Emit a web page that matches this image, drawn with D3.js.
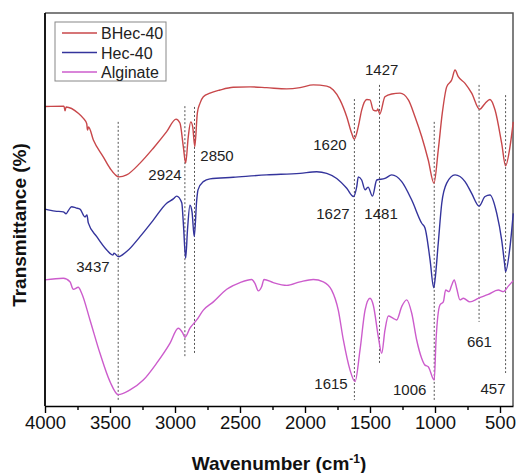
<!DOCTYPE html>
<html>
<head>
<meta charset="utf-8">
<script src="https://cdn.jsdelivr.net/npm/d3@7"></script>
<style>
  body { margin: 0; background: #fff; }
  svg { font-family: "Liberation Sans", Arial, sans-serif; display: block; }
</style>
</head>
<body>
<div class="canvas"></div>
<script>
// wavenumber (cm-1) and transmittance (arbitrary %, stacked)
const bhecWave = [4000, 3854, 3846, 3838, 3744, 3708, 3679, 3673, 3665, 3628, 3552, 3500, 3431, 3372, 3269, 3167, 3064, 2992, 2962, 2936, 2918, 2898, 2879, 2864, 2848, 2828, 2808, 2782, 2731, 2654, 2552, 2423, 2295, 2141, 2038, 1936, 1833, 1782, 1731, 1679, 1641, 1621, 1590, 1564, 1525, 1500, 1475, 1448, 1440, 1425, 1385, 1333, 1269, 1205, 1154, 1102, 1052, 1008, 975, 944, 910, 871, 846, 821, 769, 718, 657, 615, 577, 538, 487, 457, 423, 398];
const bhecVal  = [76.2, 76.3, 75.1, 76.1, 74.5, 73.3, 71.8, 70.2, 71.0, 67.7, 63.4, 60.5, 58.3, 58.8, 61.8, 65.6, 69.8, 73.0, 72.0, 66.0, 61.8, 68.5, 72.3, 71.1, 66.0, 74.6, 77.0, 78.7, 79.6, 80.4, 81.1, 81.2, 81.0, 80.7, 81.0, 81.7, 81.4, 80.4, 77.9, 73.6, 69.4, 67.9, 71.1, 75.3, 78.0, 77.9, 75.3, 75.1, 75.6, 74.3, 78.7, 79.4, 79.6, 77.9, 73.6, 68.5, 62.6, 56.7, 65.1, 74.5, 81.2, 83.0, 85.5, 83.8, 82.1, 79.6, 75.5, 77.0, 78.0, 75.3, 66.8, 61.1, 66.0, 72.3];

const hecWave = [4000, 3923, 3859, 3838, 3823, 3795, 3762, 3731, 3692, 3677, 3667, 3602, 3525, 3477, 3469, 3436, 3372, 3269, 3167, 3064, 3013, 2987, 2948, 2935, 2918, 2904, 2885, 2869, 2852, 2833, 2823, 2782, 2731, 2552, 2295, 2038, 1910, 1833, 1756, 1679, 1627, 1602, 1590, 1564, 1538, 1515, 1481, 1448, 1385, 1333, 1256, 1179, 1102, 1077, 1038, 1010, 1000, 975, 948, 910, 846, 769, 718, 661, 615, 577, 525, 487, 465, 457, 423, 398];
const hecVal  = [50.1, 49.6, 49.4, 48.9, 49.6, 50.7, 50.4, 50.1, 48.1, 48.6, 46.6, 43.1, 39.7, 38.4, 38.9, 38.0, 39.3, 43.1, 47.3, 51.6, 52.7, 53.4, 51.7, 46.1, 37.6, 44.8, 51.1, 49.4, 43.1, 52.4, 55.0, 57.1, 57.8, 58.2, 58.8, 59.2, 59.6, 59.2, 57.9, 55.4, 53.3, 55.8, 58.3, 57.5, 55.0, 55.7, 53.4, 57.5, 57.9, 58.8, 57.1, 52.4, 46.5, 45.3, 37.2, 30.1, 32.1, 41.4, 51.6, 56.7, 58.8, 57.1, 54.1, 50.9, 53.3, 53.7, 49.0, 42.2, 36.3, 34.2, 40.5, 49.0];

const algWave = [4000, 3859, 3808, 3782, 3744, 3718, 3654, 3577, 3500, 3437, 3346, 3244, 3141, 3038, 2975, 2941, 2924, 2885, 2833, 2782, 2705, 2602, 2500, 2410, 2385, 2359, 2333, 2315, 2244, 2141, 2038, 1936, 1859, 1795, 1744, 1705, 1654, 1615, 1577, 1538, 1500, 1475, 1436, 1410, 1385, 1359, 1321, 1295, 1256, 1218, 1179, 1141, 1102, 1077, 1052, 1006, 992, 962, 936, 918, 892, 871, 852, 833, 808, 782, 731, 667, 590, 513, 474, 436, 398];
const algVal  = [32.1, 32.5, 31.6, 29.7, 30.2, 28.7, 21.9, 13.4, 6.2, 2.9, 4.1, 6.6, 10.9, 16.0, 19.8, 18.6, 17.5, 19.8, 21.9, 24.4, 26.5, 29.7, 31.4, 32.2, 31.2, 29.3, 30.4, 32.2, 31.4, 30.7, 31.6, 32.2, 31.6, 29.5, 24.4, 16.8, 9.2, 6.2, 14.2, 24.4, 27.4, 25.7, 17.6, 13.4, 19.3, 22.9, 22.3, 21.9, 25.3, 27.0, 23.6, 16.8, 12.1, 10.4, 10.0, 6.6, 16.8, 25.7, 26.5, 29.5, 29.1, 30.8, 32.1, 29.9, 27.0, 27.4, 26.5, 27.4, 28.4, 29.5, 29.1, 30.5, 31.9];

const seriesNames = ["BHec-40", "Hec-40", "Alginate"];
const seriesColors = ["#c8474a", "#34349c", "#cc5ccc"];

// dotted peak guides: wavenumber, top and bottom value
const guideWave = [3437, 2924, 2850, 1620, 1427, 1006, 661, 457];
const guideTop  = [72.3, 76.3, 76.1, 78.1, 81.7, 72.3, 81.7, 79.1];
const guideBot  = [1.5, 12.5, 13.5, 1.5, 10.9, 1.5, 21.4, 8.4];

// peak labels: text, centre wavenumber, baseline value
const peakText = ["3437", "2924", "2850", "1620", "1427", "1627", "1481", "1615", "1006", "661", "457"];
const peakWave = [3631, 3077, 2677, 1808, 1410, 1785, 1415, 1800, 1195, 658, 554];
const peakVal  = [34.1, 57.5, 62.3, 65.1, 84.2, 47.6, 47.6, 4.3, 2.8, 15.0, 3.1];

const xMajor = [4000, 3500, 3000, 2500, 2000, 1500, 1000, 500];
const xMinor = [3750, 3250, 2750, 2250, 1750, 1250, 750];

const margin = {top: 13, right: 4, bottom: 67, left: 45};
const width = 517, height = 473;
const plotW = width - margin.left - margin.right;
const plotH = height - margin.top - margin.bottom;

const svg = d3.select('.canvas').append('svg')
    .attr('width', width)
    .attr('height', height);

const graph = svg.append('g')
    .attr('transform', `translate(${margin.left}, ${margin.top})`);

const x = d3.scaleLinear().domain([4000, 400]).range([0, plotW]);
const y = d3.scaleLinear().domain([0, 100]).range([plotH, 0]);

// frame top / right
graph.append('path')
    .attr('d', `M0,0H${plotW}V${plotH}`)
    .attr('fill', 'none')
    .attr('stroke', '#555')
    .attr('stroke-width', 1.5);

// guides
guideWave.forEach((w, i) => {
  graph.append('line')
    .attr('x1', x(w)).attr('x2', x(w))
    .attr('y1', y(guideTop[i])).attr('y2', y(guideBot[i]))
    .attr('stroke', '#555')
    .attr('stroke-width', 1)
    .attr('stroke-dasharray', '2,2');
});

const line = d3.line()
    .x(d => x(d[0]))
    .y(d => y(d[1]))
    .curve(d3.curveMonotoneX);

const allWave = [bhecWave, hecWave, algWave];
const allVal = [bhecVal, hecVal, algVal];
allWave.forEach((ws, i) => {
  graph.append('path')
    .datum(d3.zip(ws, allVal[i]))
    .attr('d', line)
    .attr('fill', 'none')
    .attr('stroke', seriesColors[i])
    .attr('stroke-width', 1.4);
});

// peak labels
peakText.forEach((t, i) => {
  graph.append('text')
    .attr('x', x(peakWave[i]))
    .attr('y', y(peakVal[i]))
    .attr('text-anchor', 'middle')
    .attr('font-size', 15)
    .attr('fill', '#222')
    .text(t);
});

// axes
const xAxisGroup = graph.append('g')
    .attr('transform', `translate(0, ${plotH})`);
xAxisGroup.call(d3.axisBottom(x).tickValues(xMajor).tickFormat(d3.format('d')).tickSize(7).tickSizeOuter(0).tickPadding(3));
xAxisGroup.selectAll('text').attr('font-size', 18.5).attr('fill', '#111').attr('font-family', '"Liberation Sans", Arial, sans-serif');
xAxisGroup.select('.domain').attr('stroke', '#000').attr('stroke-width', 1.6);
xAxisGroup.selectAll('.tick line').attr('stroke-width', 1.4);

const minorGroup = graph.append('g')
    .attr('transform', `translate(0, ${plotH})`);
minorGroup.call(d3.axisBottom(x).tickValues(xMinor).tickSize(4).tickFormat(''));
minorGroup.select('.domain').remove();
minorGroup.selectAll('.tick line').attr('stroke-width', 1.4);

graph.append('line')
    .attr('x1', 0).attr('x2', 0)
    .attr('y1', 0).attr('y2', plotH)
    .attr('stroke', '#000')
    .attr('stroke-width', 1.8);

// titles
svg.append('text')
    .attr('x', margin.left + plotW / 2)
    .attr('y', 470)
    .attr('text-anchor', 'middle')
    .attr('font-size', 19)
    .attr('font-weight', 'bold')
    .attr('fill', '#111')
    .html('Wavenumber (cm<tspan dy="-7" font-size="12">-1</tspan><tspan dy="7">)</tspan>');

svg.append('text')
    .attr('transform', `translate(26, 225) rotate(-90)`)
    .attr('text-anchor', 'middle')
    .attr('font-size', 19)
    .attr('font-weight', 'bold')
    .attr('fill', '#111')
    .text('Transmittance (%)');

// legend
const legend = svg.append('g').attr('transform', 'translate(55, 22)');
legend.append('rect')
    .attr('width', 111).attr('height', 59)
    .attr('fill', '#fff')
    .attr('stroke', '#888')
    .attr('stroke-width', 1);
seriesNames.forEach((n, i) => {
  const ly = 11 + i * 19.5;
  legend.append('line')
    .attr('x1', 7).attr('x2', 42)
    .attr('y1', ly).attr('y2', ly)
    .attr('stroke', seriesColors[i])
    .attr('stroke-width', 1.4);
  legend.append('text')
    .attr('x', 46).attr('y', ly + 6)
    .attr('font-size', 16)
    .attr('fill', '#222')
    .text(n);
});
</script>
</body>
</html>
